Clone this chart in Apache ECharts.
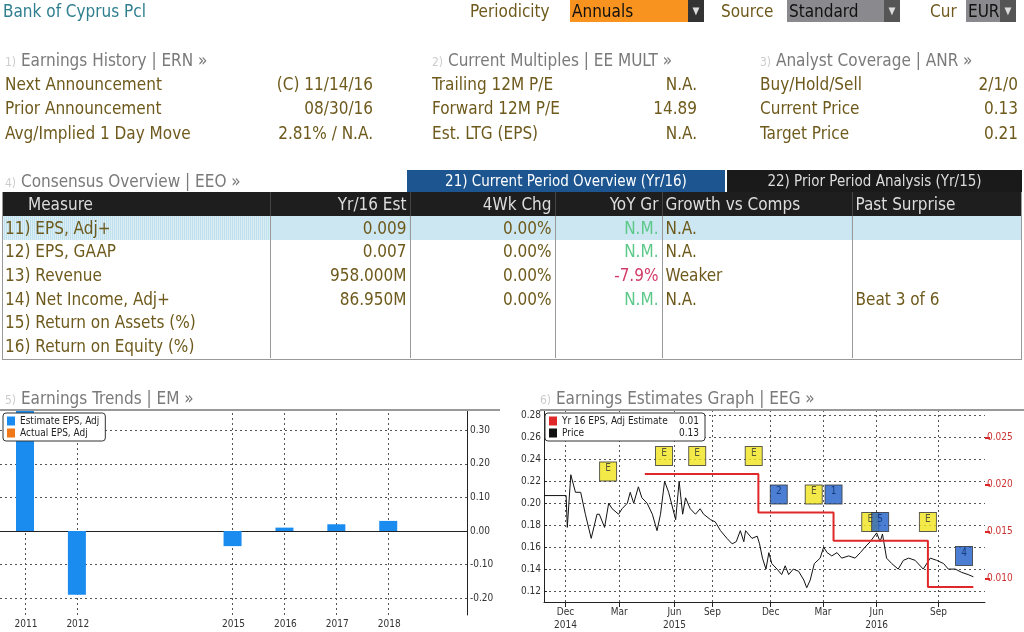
<!DOCTYPE html>
<html><head><meta charset="utf-8">
<script src="https://cdn.jsdelivr.net/npm/echarts@6/dist/echarts.min.js"></script>
<style>
body{margin:0;width:1024px;height:632px;background:#fff;overflow:hidden;font-family:"Liberation Sans Narrow","DejaVu Sans Condensed","Noto Sans",sans-serif;}
#chart{position:absolute;left:0;top:0;width:1024px;height:632px;}
.t{position:absolute;white-space:nowrap;font-size:17px;line-height:20px;}
.lab{color:#6e5a1c}
.val{color:#6e5a1c;text-align:right}
.hd{color:#7a7a7a}
.hd i{font-style:normal;color:#ccc;font-size:12px}
.box{position:absolute;height:22px;top:0;font-size:17px;line-height:22px;padding-left:2px;color:#111}
.dd{position:absolute;top:0;height:22px;width:16px;background:#333;color:#ddd;font-size:10px;line-height:22px;text-align:center}
table{position:absolute;left:2px;top:192px;width:1020px;border-collapse:collapse;font-size:17px;table-layout:fixed}
td,th{padding:0 3px;height:23.6px;line-height:22px;color:#6e5a1c;font-weight:normal;border-left:1px solid #999;white-space:nowrap;overflow:hidden}
th{background:#1e1e1e;color:#ddd;height:24px;border-left:1px solid #444}
tr.hl td{background:repeating-linear-gradient(90deg,#bfe0ec 0 1px,#d9eef5 1px 2px);}
.r{text-align:right}.g{color:#5cc98a}.red{color:#d23c6a}
</style></head><body>
<div id="chart"></div>
<div class="t" style="left:3px;top:1px;color:#2f7f8f">Bank of Cyprus Pcl</div>
<div class="t lab" style="left:470px;top:1px">Periodicity</div>
<div class="box" style="left:570px;width:116px;background:#f7931e">Annuals</div><div class="dd" style="left:688px">▼</div>
<div class="t lab" style="left:721px;top:1px">Source</div>
<div class="box" style="left:787px;width:95px;background:#8a8a8e">Standard</div><div class="dd" style="left:884px;background:#555">▼</div>
<div class="t lab" style="left:930px;top:1px">Cur</div>
<div class="box" style="left:966px;width:32px;background:#8a8a8e">EUR</div><div class="dd" style="left:1000px;background:#555">▼</div>

<div class="t hd" style="left:5px;top:50px"><i>1)</i> Earnings History | ERN »</div>
<div class="t hd" style="left:432px;top:50px"><i>2)</i> Current Multiples | EE MULT »</div>
<div class="t hd" style="left:760px;top:50px"><i>3)</i> Analyst Coverage | ANR »</div>
<div id="info"></div>

<div class="t hd" style="left:5px;top:171px"><i>4)</i> Consensus Overview | EEO »</div>
<div class="t" style="left:407px;top:170px;width:318px;height:22px;background:#1c5590;color:#fff;text-align:center;font-size:15px;line-height:22px">21) Current Period Overview (Yr/16)</div>
<div class="t" style="left:727px;top:170px;width:295px;height:22px;background:#1a1a1a;color:#ddd;text-align:center;font-size:15px;line-height:22px">22) Prior Period Analysis (Yr/15)</div>
<table id="tbl"></table>
<div style="position:absolute;left:2px;top:192px;width:1020px;height:168px;border:1px solid #999;border-top:none;box-sizing:border-box;pointer-events:none"></div>

<div class="t hd" style="left:5px;top:388px"><i>5)</i> Earnings Trends | EM »</div>
<div class="t hd" style="left:540px;top:388px"><i>6)</i> Earnings Estimates Graph | EEG »</div>
<div style="position:absolute;left:0;top:409px;width:500px;height:2px;background:#999"></div>
<div style="position:absolute;left:540px;top:409px;width:484px;height:2px;background:#999"></div>
<script>
// ---- header data ----
const infoCols = [
  {x:5, vx:373, rows:[["Next Announcement","(C)  11/14/16"],["Prior Announcement","08/30/16"],["Avg/Implied 1 Day Move","2.81% / N.A."]]},
  {x:432, vx:697, rows:[["Trailing 12M P/E","N.A."],["Forward 12M P/E","14.89"],["Est. LTG (EPS)","N.A."]]},
  {x:760, vx:1018, rows:[["Buy/Hold/Sell","2/1/0"],["Current Price","0.13"],["Target Price","0.21"]]}
];
let h='';
infoCols.forEach(c=>c.rows.forEach((r,i)=>{
  const y=74+i*24.3;
  h+=`<div class="t lab" style="left:${c.x}px;top:${y}px">${r[0]}</div><div class="t val" style="left:${c.vx-200}px;width:200px;top:${y}px">${r[1]}</div>`;
}));
document.getElementById('info').innerHTML=h;

// ---- table data ----
const tableHead = ["Measure","Yr/16 Est","4Wk Chg","YoY Gr","Growth vs Comps","Past Surprise"];
const measures = ["11) EPS, Adj+","12) EPS, GAAP","13) Revenue","14) Net Income, Adj+","15) Return on Assets (%)","16) Return on Equity (%)"];
const estimates = ["0.009","0.007","958.000M","86.950M","",""];
const chg4wk = ["0.00%","0.00%","0.00%","0.00%","",""];
const yoyGr = ["N.M.","N.M.","-7.9%","N.M.","",""];
const growthComps = ["N.A.","N.A.","Weaker","N.A.","",""];
const pastSurprise = ["","","","Beat 3 of 6","",""];
const widths=[268,140,145,107,190,170];
let t='<colgroup>'+widths.map(w=>`<col style="width:${w}px">`).join('')+'</colgroup>';
t+='<tr>'+tableHead.map((s,i)=>`<th style="text-align:${(i>=1&&i<=3)?'right':'left'};${i==0?'padding-left:26px;border-left:none':''}">${s}</th>`).join('')+'</tr>';
measures.forEach((m,i)=>{
  const yc = yoyGr[i].startsWith('-')?'red':'g';
  t+=`<tr class="${i==0?'hl':''}"><td style="border-left:none">${m}</td><td class="r">${estimates[i]}</td><td class="r">${chg4wk[i]}</td><td class="r ${yc}">${yoyGr[i]}</td><td>${growthComps[i]}</td><td>${pastSurprise[i]}</td></tr>`;
});
document.getElementById('tbl').innerHTML=t;

// ---- Earnings Trends data ----
const years = ["2011","2012","2013","2014","2015","2016","2017","2018","2019"];
const estimateEPS = [0.5,-0.19,null,null,-0.045,0.01,0.02,0.03,null];
const actualEPS = [null,null,null,null,null,null,null,null,null];
const trendTicks = [-0.2,-0.1,0,0.1,0.2,0.3];

// ---- Earnings Estimates Graph data ----
const priceDates = ["2014-11-08","2014-12-16","2014-12-18","2014-12-24","2015-01-01","2015-01-10","2015-01-18","2015-01-28","2015-02-07","2015-02-11","2015-02-20","2015-02-27","2015-03-05","2015-03-16","2015-03-22","2015-03-31","2015-04-05","2015-04-11","2015-04-19","2015-04-25","2015-05-04","2015-05-13","2015-05-21","2015-05-27","2015-06-03","2015-06-10","2015-06-22","2015-06-28","2015-07-04","2015-07-09","2015-07-17","2015-07-26","2015-08-03","2015-08-09","2015-08-21","2015-08-29","2015-09-07","2015-09-18","2015-09-27","2015-10-04","2015-10-11","2015-10-17","2015-10-20","2015-10-31","2015-11-09","2015-11-13","2015-11-18","2015-11-24","2015-11-29","2015-12-04","2015-12-13","2015-12-21","2015-12-27","2016-01-02","2016-01-10","2016-01-19","2016-01-28","2016-02-02","2016-02-08","2016-02-15","2016-02-25","2016-03-02","2016-03-08","2016-03-16","2016-03-25","2016-04-02","2016-04-14","2016-04-25","2016-05-04","2016-05-12","2016-05-21","2016-06-01","2016-06-07","2016-06-11","2016-06-18","2016-06-27","2016-07-08","2016-07-17","2016-07-26","2016-08-06","2016-08-20","2016-09-01","2016-09-12","2016-09-24","2016-10-02","2016-10-14","2016-10-25","2016-11-05","2016-11-14"];
const priceValues = [0.207,0.207,0.178,0.226,0.21,0.21,0.19,0.168,0.19,0.19,0.178,0.20,0.195,0.19,0.195,0.20,0.21,0.20,0.215,0.205,0.20,0.19,0.175,0.19,0.22,0.21,0.185,0.22,0.19,0.205,0.195,0.19,0.195,0.19,0.185,0.183,0.175,0.168,0.163,0.165,0.175,0.165,0.175,0.168,0.17,0.163,0.15,0.14,0.155,0.145,0.14,0.135,0.143,0.135,0.14,0.138,0.13,0.123,0.13,0.145,0.15,0.16,0.155,0.152,0.155,0.15,0.152,0.15,0.155,0.16,0.165,0.173,0.165,0.172,0.15,0.145,0.14,0.148,0.15,0.148,0.14,0.15,0.148,0.145,0.14,0.14,0.137,0.135,0.133];
const estDates = ["2015-04-30","2015-11-11","2016-03-19","2016-08-28","2016-11-14"];
const estValues = [0.0211,0.0170,0.0140,0.0091,0.0091];
const eventDates = ["2015-02-26","2015-06-02","2015-07-29","2015-11-03","2015-12-16","2016-02-14","2016-03-19","2016-05-21","2016-06-07","2016-08-28","2016-10-29"];
const eventLevels = [0.229,0.243,0.243,0.243,0.208,0.208,0.208,0.183,0.183,0.183,0.152];
const eventKinds = ["E","E","E","E","2","E","1","E","5","E","4"];
const monthTickDates = ["2014-12-15","2015-03-17","2015-06-20","2015-08-24","2015-12-02","2016-03-01","2016-06-01","2016-09-15"];
const monthTickLabels = ["Dec\n2014","Mar","Jun\n2015","Sep","Dec","Mar","Jun\n2016","Sep"];
const priceTicks = [0.12,0.14,0.16,0.18,0.20,0.22,0.24,0.26,0.28];
const estTicks = [0.010,0.015,0.020,0.025];

const FONT='"Liberation Sans Narrow","DejaVu Sans Condensed",sans-serif';
const ts = s=>new Date(s+"T00:00:00Z").getTime();
const stepData=[]; estDates.forEach((d,i)=>{stepData.push([ts(d),estValues[i]]); if(i<estDates.length-1) stepData.push([ts(estDates[i+1]),estValues[i]]);});
const dotted={type:[2,3],color:'#555',width:1};
const monthTs = monthTickDates.map(ts);
const tickLabelMap={}; monthTs.forEach((v,i)=>tickLabelMap[v]=monthTickLabels[i]);
const yearLines = years.filter((y,i)=>estimateEPS[i]!=null).map(y=>({xAxis:y,lineStyle:dotted}));

const chart=echarts.init(document.getElementById('chart'));
chart.setOption({
  animation:false,
  textStyle:{fontFamily:FONT},
  grid:[{left:0,top:410,width:467,height:205},{left:544,top:410,width:441,height:193}],
  legend:[
    {data:['Estimate EPS, Adj','Actual EPS, Adj'],orient:'vertical',left:3,top:413,itemWidth:8,itemHeight:9,itemGap:2,icon:'rect',
     backgroundColor:'#fff',borderColor:'#333',borderWidth:1,borderRadius:3,padding:[3,6,3,4],textStyle:{fontSize:10,color:'#222',fontFamily:FONT}},
    {data:['Yr 16 EPS, Adj Estimate','Price'],orient:'vertical',left:545,top:413,itemWidth:8,itemHeight:9,itemGap:2,icon:'rect',
     backgroundColor:'#fff',borderColor:'#333',borderWidth:1,borderRadius:3,padding:[3,6,3,4],
     formatter:n=>`{a|${n}}{b|${n==='Price'?'0.13':'0.01'}}`,
     textStyle:{fontSize:10,color:'#222',fontFamily:FONT,rich:{a:{width:112,fontSize:10},b:{width:25,align:'right',fontSize:10}}}}
  ],
  xAxis:[
    {gridIndex:0,type:'category',data:years,axisLine:{lineStyle:{color:'#222'}},axisTick:{show:false},
     axisLabel:{fontSize:10,color:'#333',margin:4,formatter:(v,i)=>estimateEPS[i]==null?'':v}},
    {gridIndex:1,type:'value',min:ts('2014-11-08'),max:ts('2016-12-04'),
     axisLine:{lineStyle:{color:'#222'}},
     axisTick:{customValues:monthTs,lineStyle:{color:'#222'}},
     splitLine:{show:true,lineStyle:dotted},
     axisLabel:{customValues:monthTs,fontSize:10,color:'#333',margin:4,lineHeight:13,formatter:v=>tickLabelMap[v]||''}}
  ],
  yAxis:[
    {gridIndex:0,type:'value',position:'right',min:-0.25,max:0.36,
     axisLine:{show:true,lineStyle:{color:'#222'}},
     axisTick:{customValues:trendTicks,length:4,lineStyle:{color:'#222'}},
     axisLabel:{customValues:trendTicks,fontSize:10,color:'#333',margin:3,formatter:v=>v.toFixed(2)},
     splitLine:{show:true,lineStyle:dotted}},
    {gridIndex:1,type:'value',position:'left',min:0.11,max:0.285,
     axisLine:{show:true,lineStyle:{color:'#222'}},
     axisTick:{customValues:priceTicks,inside:true,length:3},
     axisLabel:{customValues:priceTicks,fontSize:10,color:'#333',margin:3,formatter:v=>v.toFixed(2)},
     splitLine:{show:true,lineStyle:dotted}},
    {gridIndex:1,type:'value',position:'right',min:0.0075,max:0.0279,
     axisLine:{show:false},
     axisTick:{customValues:estTicks,length:5,lineStyle:{color:'#d22',width:2}},
     axisLabel:{customValues:estTicks,fontSize:10,color:'#c33',margin:2,formatter:v=>v.toFixed(3)},
     splitLine:{show:false}}
  ],
  series:[
    {name:'Estimate EPS, Adj',type:'bar',xAxisIndex:0,yAxisIndex:0,data:estimateEPS,barWidth:18,itemStyle:{color:'#1a8cf0'},clip:true,z:3,
     markLine:{silent:true,symbol:'none',label:{show:false},z:1,data:[{yAxis:0,lineStyle:{type:'solid',color:'#222',width:1}}].concat(yearLines)}},
    {name:'Actual EPS, Adj',type:'bar',xAxisIndex:0,yAxisIndex:0,data:actualEPS,itemStyle:{color:'#f07818'}},
    {name:'Price',type:'line',xAxisIndex:1,yAxisIndex:1,data:priceDates.map((d,i)=>[ts(d),priceValues[i]]),showSymbol:false,lineStyle:{color:'#111',width:1},itemStyle:{color:'#111'}},
    {name:'Yr 16 EPS, Adj Estimate',type:'line',xAxisIndex:1,yAxisIndex:2,data:stepData,showSymbol:false,lineStyle:{color:'#e02828',width:2},itemStyle:{color:'#e02828'}},
    {name:'events',type:'scatter',xAxisIndex:1,yAxisIndex:1,symbol:'rect',symbolSize:[17,19],z:5,
     data:eventDates.map((d,i)=>({value:[ts(d),eventLevels[i]],itemStyle:{color:eventKinds[i]==='E'?'#f0e41a':'#1f5fc8',borderColor:'#333',borderWidth:1},
       label:{show:true,position:'inside',formatter:eventKinds[i],color:eventKinds[i]==='E'?'#333':'#0a2a6a',fontSize:10,offset:[0,-3]}}))}
  ]
});
</script>
</body></html>
